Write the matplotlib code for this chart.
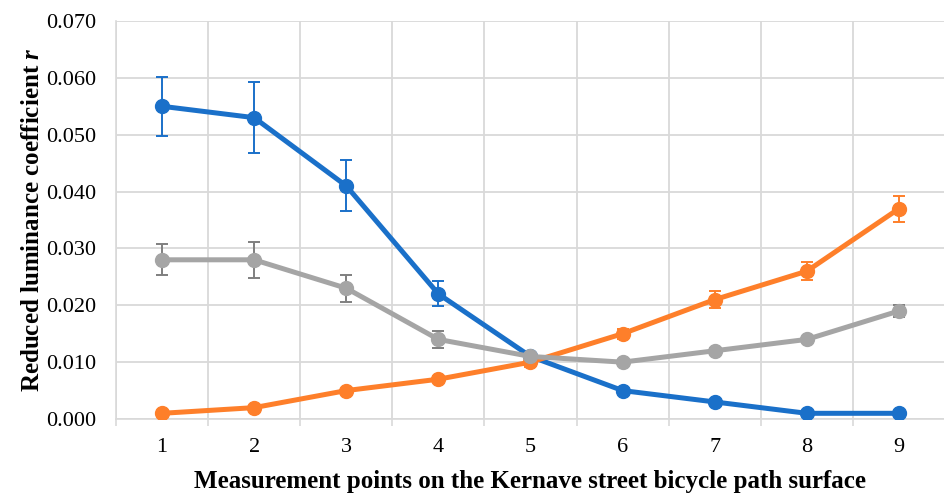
import matplotlib
matplotlib.use("Agg")
import matplotlib.pyplot as plt
import numpy as np

points = [1, 2, 3, 4, 5, 6, 7, 8, 9]
blue_vals = [0.055, 0.053, 0.041, 0.022, 0.011, 0.005, 0.003, 0.001, 0.001]
blue_err = [0.0052, 0.0062, 0.0045, 0.0022, 0.0005, 0.0003, 0.0003, 0.0002, 0.0002]
orange_vals = [0.001, 0.002, 0.005, 0.007, 0.010, 0.015, 0.021, 0.026, 0.037]
orange_err = [0.0002, 0.0002, 0.0003, 0.0003, 0.0008, 0.0009, 0.0015, 0.0016, 0.0023]
gray_vals = [0.028, 0.028, 0.023, 0.014, 0.011, 0.010, 0.012, 0.014, 0.019]
gray_err = [0.0027, 0.0032, 0.0024, 0.0015, 0.0007, 0.0004, 0.0005, 0.0004, 0.0011]
y_ticks = [0.0, 0.01, 0.02, 0.03, 0.04, 0.05, 0.06, 0.07]

plt.rcParams['font.family'] = ['Liberation Serif', 'DejaVu Serif']
plt.rcParams['mathtext.fontset'] = 'custom'
plt.rcParams['mathtext.rm'] = 'Liberation Serif:bold'
plt.rcParams['mathtext.it'] = 'Liberation Serif:italic:bold'
plt.rcParams['mathtext.bf'] = 'Liberation Serif:bold'

fig = plt.figure(figsize=(9.45, 4.95), dpi=100)
ax = fig.add_axes([116/945, 1-419/495, 1-116/945, (419-21)/495])

series = [
    (blue_vals, blue_err, '#1a70c9', '#1a70c9'),
    (orange_vals, orange_err, '#fe7f2a', '#fe7f2a'),
    (gray_vals, gray_err, '#a5a5a5', '#7f7f7f'),
]
for vals, err, col, ecol in series:
    ax.errorbar(points, vals, yerr=err, color=col, ecolor=ecol, lw=3.6,
                marker='o', ms=10, elinewidth=1.4, capsize=4.5, capthick=1.4,
                zorder=3)

ax.set_xlim(0.5, 9.5)
ax.set_ylim(0, 0.07)
ax.set_xticks(points)
ax.set_xticks(np.arange(0.5, 9.6, 1.0), minor=True)
ax.set_yticks(y_ticks)
ax.set_yticklabels([f"{v:.3f}" for v in y_ticks])
ax.tick_params(axis='x', which='major', length=0, labelsize=16, pad=14)
ax.tick_params(axis='x', which='minor', length=5, color='#d9d9d9', width=1.2)
ax.tick_params(axis='y', which='major', length=0, labelsize=16, pad=14)
ax.grid(axis='y', which='major', color='#d9d9d9', lw=1.3, zorder=0)
ax.grid(axis='x', which='minor', color='#d9d9d9', lw=1.3, zorder=0)
ax.set_axisbelow(True)
for s in ['top', 'right']:
    ax.spines[s].set_visible(False)
for s in ['left', 'bottom']:
    ax.spines[s].set_color('#d9d9d9')
    ax.spines[s].set_linewidth(1.2)

ax.set_xlabel('Measurement points on the Kernave street bicycle path surface',
              fontsize=18, fontweight='bold', labelpad=9)
ax.set_ylabel('Reduced luminance coefficient $r$', fontsize=18, fontweight='bold', labelpad=2)

fig.savefig('out.png', dpi=100)
